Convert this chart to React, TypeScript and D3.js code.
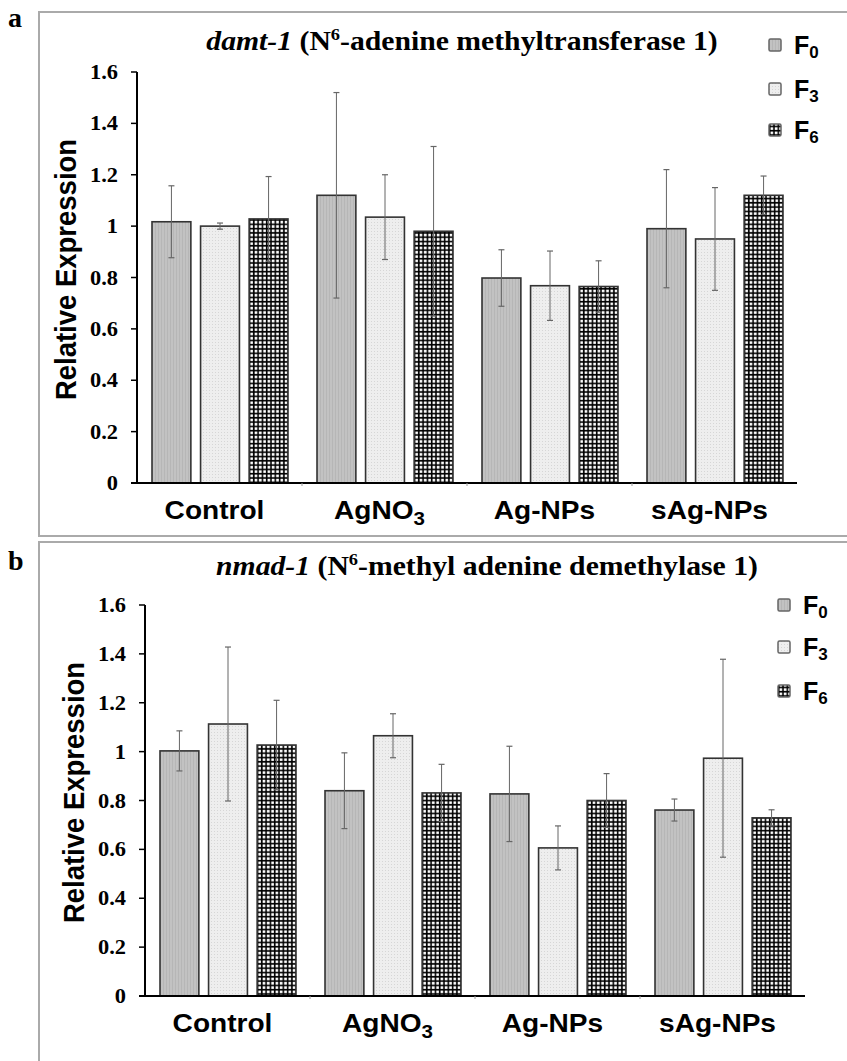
import React from 'react';
import * as d3 from 'd3';

const W = 847;
const H = 1061;

const categories = ['Control', 'AgNO3', 'Ag-NPs', 'sAg-NPs'];
const generations = ['F0', 'F3', 'F6'];
const yTicks = [0, 0.2, 0.4, 0.6, 0.8, 1, 1.2, 1.4, 1.6];

// damt-1
const damtF0 = [1.017, 1.12, 0.798, 0.99];
const damtF3 = [1.0, 1.035, 0.768, 0.95];
const damtF6 = [1.028, 0.98, 0.765, 1.12];
const damtF0Err = [0.14, 0.4, 0.11, 0.23];
const damtF3Err = [0.012, 0.165, 0.135, 0.2];
const damtF6Err = [0.165, 0.33, 0.1, 0.075];

// nmad-1
const nmadF0 = [1.003, 0.84, 0.827, 0.761];
const nmadF3 = [1.113, 1.065, 0.606, 0.973];
const nmadF6 = [1.027, 0.831, 0.8, 0.729];
const nmadF0Err = [0.082, 0.155, 0.195, 0.045];
const nmadF3Err = [0.315, 0.09, 0.09, 0.405];
const nmadF6Err = [0.183, 0.117, 0.11, 0.033];

const fills = { F0: 'url(#patF0)', F3: 'url(#patF3)', F6: 'url(#patF6)' };
const serif = '"Liberation Serif", "Times New Roman", serif';
const sans = '"Liberation Sans", Arial, sans-serif';

function Panel({ letter, letterY, gene, rest, titleX, titleY, x0, x1, yTop, yBase, means, errs, legX, legY }) {
  const x = d3.scaleBand().domain(categories).range([x0, x1]);
  const xs = d3.scaleBand().domain(generations).range([15, 151]).paddingInner(0.2);
  const y = d3.scaleLinear().domain([0, 1.6]).range([yBase, yTop]);

  return (
    <g>
      <text x={8} y={letterY} fontFamily={serif} fontWeight="bold" fontSize={28}>{letter}</text>
      <g transform={`translate(${titleX},${titleY}) scale(1.08,1)`}>
        <text textAnchor="middle" fontFamily={serif} fontWeight="bold" fontSize={27.5}>
          <tspan fontStyle="italic">{gene}</tspan>
          <tspan> (N</tspan>
          <tspan fontSize={17} dy={-10}>6</tspan>
          <tspan dy={10}>{rest}</tspan>
        </text>
      </g>

      {/* y axis */}
      <line x1={x0} x2={x0} y1={yTop} y2={yBase} stroke="#000" strokeWidth={2} />
      {yTicks.map(t => (
        <g key={t}>
          <line x1={x0 - 6} x2={x0} y1={y(t)} y2={y(t)} stroke="#000" strokeWidth={1.5} />
          <g transform={`translate(${x0 - 19},${y(t) + 7}) scale(1.12,1)`}>
            <text textAnchor="end" fontFamily={serif} fontWeight="bold" fontSize={20}>{String(+t.toFixed(1))}</text>
          </g>
        </g>
      ))}
      <g transform={`translate(${x0 - 61},${(yTop + yBase) / 2 - 8}) scale(1.1,1) rotate(-90)`}>
        <text textAnchor="middle" fontFamily={sans} fontWeight="bold" fontSize={27.5}>Relative Expression</text>
      </g>

      {/* bars */}
      {categories.map((c, i) => (
        <g key={c} transform={`translate(${x(c)},0)`}>
          {generations.map((g, j) => {
            const v = means[j][i];
            const e = errs[j][i];
            const bx = xs(g);
            const cx = bx + xs.bandwidth() / 2;
            return (
              <g key={g}>
                <rect x={bx} y={y(v)} width={xs.bandwidth()} height={yBase - y(v)}
                  fill={fills[g]} stroke="#333" strokeWidth={1.6} />
                <line x1={cx} x2={cx} y1={y(v + e)} y2={y(v - e)} stroke="#666" strokeWidth={1} />
                <line x1={cx - 3} x2={cx + 3} y1={y(v + e)} y2={y(v + e)} stroke="#666" strokeWidth={1.2} />
                <line x1={cx - 3} x2={cx + 3} y1={y(v - e)} y2={y(v - e)} stroke="#666" strokeWidth={1.2} />
              </g>
            );
          })}
        </g>
      ))}

      {/* x axis */}
      <line x1={x0 - 6} x2={x1} y1={yBase} y2={yBase} stroke="#000" strokeWidth={2} />
      {categories.slice(1).map(c => (
        <line key={c} x1={x(c)} x2={x(c)} y1={yBase} y2={yBase + 3} stroke="#999" strokeWidth={1} />
      ))}
      {categories.map(c => (
        <g key={c} transform={`translate(${x(c) + x.bandwidth() / 2 - 5},${yBase + 36}) scale(1.08,1)`}>
          <text textAnchor="middle" fontFamily={sans} fontWeight="bold" fontSize={26}>
            {c === 'AgNO3' ? (<><tspan>AgNO</tspan><tspan fontSize={19} dy={6}>3</tspan></>) : c}
          </text>
        </g>
      ))}

      {/* legend */}
      {generations.map((g, j) => (
        <g key={g} transform={`translate(${legX},${legY[j]})`}>
          <rect x={0} y={-6} width={12} height={12} fill={fills[g]} stroke="#666" strokeWidth={1.5} rx={1.5} />
          <text x={25} y={9} fontFamily={sans} fontWeight="bold" fontSize={25}>
            F<tspan fontSize={17} dy={4}>{g.slice(1)}</tspan>
          </text>
        </g>
      ))}
    </g>
  );
}

export default function App() {
  return (
    <svg width={W} height={H} style={{ position: 'absolute', left: 0, top: 0, background: '#fff' }}>
      <defs>
        <pattern id="patF0" width={3} height={3} patternUnits="userSpaceOnUse">
          <rect width={3} height={3} fill="#c2c2c2" />
          <rect width={1} height={3} fill="#b6b6b6" />
        </pattern>
        <pattern id="patF3" width={3} height={3} patternUnits="userSpaceOnUse">
          <rect width={3} height={3} fill="#eeeeee" />
          <rect width={1} height={1} fill="#d6d6d6" />
        </pattern>
        <pattern id="patF6" width={4.3} height={4.3} patternUnits="userSpaceOnUse">
          <rect width={4.3} height={4.3} fill="#000" />
          <rect x={1.5} y={1.5} width={2.7} height={2.7} fill="#fff" />
        </pattern>
      </defs>
      <rect width={W} height={H} fill="#fff" />

      {/* panel frames */}
      <rect x={39} y={12} width={W} height={524} fill="none" stroke="#aaa" strokeWidth={2} />
      <rect x={39} y={542} width={W} height={H} fill="none" stroke="#aaa" strokeWidth={2} />

      <Panel letter="a" letterY={27} gene="damt-1" rest="-adenine methyltransferase 1)"
        titleX={462} titleY={50} x0={137} x1={797} yTop={72} yBase={483}
        means={[damtF0, damtF3, damtF6]} errs={[damtF0Err, damtF3Err, damtF6Err]}
        legX={769} legY={[45, 89, 130]} />

      <Panel letter="b" letterY={570} gene="nmad-1" rest="-methyl adenine demethylase 1)"
        titleX={487} titleY={575} x0={145} x1={805} yTop={605} yBase={996}
        means={[nmadF0, nmadF3, nmadF6]} errs={[nmadF0Err, nmadF3Err, nmadF6Err]}
        legX={778} legY={[605, 647, 691]} />
    </svg>
  );
}
